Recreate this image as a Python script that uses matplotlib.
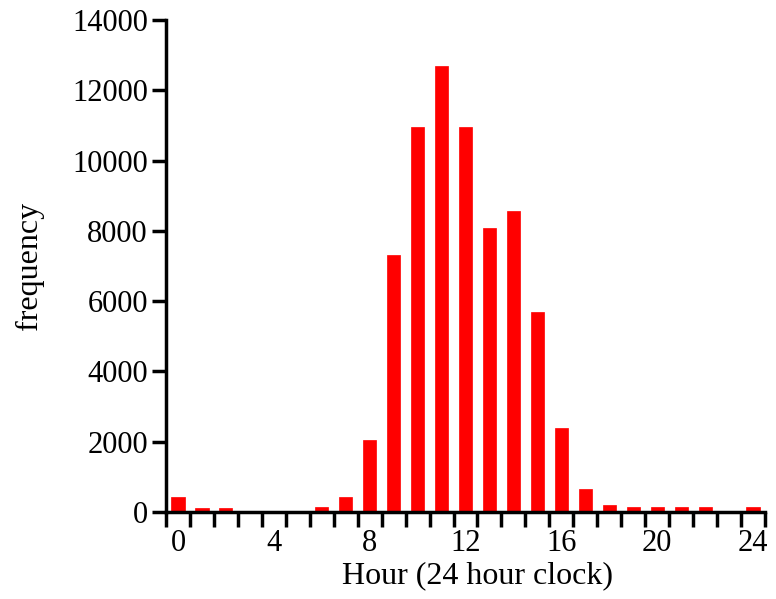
import matplotlib
matplotlib.use("Agg")
import matplotlib.pyplot as plt
from matplotlib.ticker import FixedLocator

hours = list(range(25))
freq = [420, 100, 100, 0, 0, 0, 150, 420, 2050, 7300, 10950, 12700, 10950,
        8080, 8570, 5700, 2390, 650, 200, 150, 150, 150, 150, 0, 150]
xtick_vals = [0, 4, 8, 12, 16, 20, 24]
ytick_vals = [0, 2000, 4000, 6000, 8000, 10000, 12000, 14000]

plt.rcParams['font.family'] = ['Liberation Serif', 'DejaVu Serif']

fig = plt.figure(figsize=(7.76, 5.99), dpi=100)
ax = fig.add_axes([166/776, 1-512/599, (765-166)/776, (512-20)/599])

ax.bar(hours, freq, width=0.55, color='#FF0000', edgecolor='#FF0000', linewidth=0.5)

ax.set_xlim(-0.5, 24.5)
ax.set_ylim(0, 14000)
ax.xaxis.set_major_locator(FixedLocator(xtick_vals))
ax.xaxis.set_minor_locator(FixedLocator([h - 0.5 for h in hours] + [24.5]))
ax.yaxis.set_major_locator(FixedLocator(ytick_vals))

ax.tick_params(axis='x', which='major', length=0, labelsize=22, pad=12)
ax.tick_params(axis='x', which='minor', length=11, width=2.5, direction='out')
ax.tick_params(axis='y', which='major', length=10, width=2.5, labelsize=22, pad=3)

for s in ['top', 'right']:
    ax.spines[s].set_visible(False)
for s in ['left', 'bottom']:
    ax.spines[s].set_linewidth(2.5)

ax.set_xlabel('Hour (24 hour clock)', fontsize=23, labelpad=5)
ax.xaxis.set_label_coords(0.52, -0.1, transform=ax.transAxes)
ax.set_ylabel('frequency', fontsize=23, labelpad=20)

fig.savefig('out.png', dpi=100)
